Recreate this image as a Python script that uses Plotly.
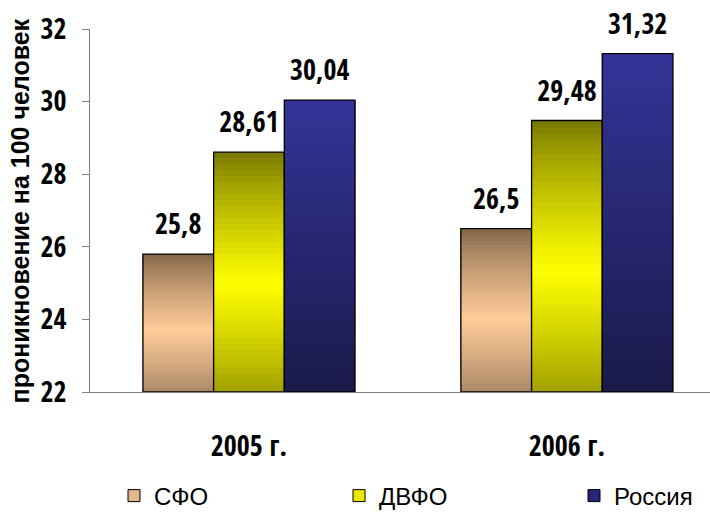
import plotly.graph_objects as go

categories = ["2005 г.", "2006 г."]
series_names = ["СФО", "ДВФО", "Россия"]
sfo = [25.8, 26.5]
dvfo = [28.61, 29.48]
russia = [30.04, 31.32]
value_labels = [["25,8", "26,5"], ["28,61", "29,48"], ["30,04", "31,32"]]
y_ticks = [22, 24, 26, 28, 30, 32]

BASE = 22
N = 40
series_values = [sfo, dvfo, russia]


def hex2rgb(h):
    h = h.lstrip("#")
    return [int(h[i:i + 2], 16) for i in (0, 2, 4)]


def mix(a, b, f):
    a, b = hex2rgb(a), hex2rgb(b)
    return "rgb(%d,%d,%d)" % tuple(round(a[i] + (b[i] - a[i]) * f) for i in range(3))


def tan_color(t):
    dark = "#7f6347" if t > 0.45 else "#8c7054"
    f = max(0.0, 1 - abs(t - 0.45) / 0.55) ** 0.8
    return mix(dark, "#ffcc99", f)


def yellow_color(t):
    dark = "#747400" if t > 0.45 else "#7f7f00"
    f = max(0.0, 1 - abs(t - 0.45) / 0.55) ** 0.8
    return mix(dark, "#ffff00", f)


def blue_color(t):
    return mix("#1a1a4a", "#343499", t)


color_funcs = [tan_color, yellow_color, blue_color]
legend_colors = ["#e0b88e", "#e8e800", "#25257a"]
legend_names = ["legend", "legend2", "legend3"]
legend_x = [114, 339, 574]

NARROW = "Noto Sans Condensed, Open Sans Condensed, Roboto Condensed, DejaVu Sans Condensed"
bold_narrow = dict(family=NARROW, size=28, color="black", weight="bold")

fig = go.Figure()

for s, vals in enumerate(series_values):
    heights = [v - BASE for v in vals]
    for k in range(N):
        t = (k + 0.5) / N
        fig.add_trace(go.Bar(
            x=categories,
            y=[h * (1 - k / N) for h in heights],
            base=[BASE + h * k / N for h in heights],
            offsetgroup=str(s),
            marker=dict(color=color_funcs[s](t), line=dict(width=0)),
            showlegend=False, hoverinfo="skip",
        ))
    # outline
    fig.add_trace(go.Bar(
        x=categories, y=heights, base=[BASE] * len(vals),
        offsetgroup=str(s),
        marker=dict(color="rgba(0,0,0,0)", line=dict(color="black", width=1.3)),
        showlegend=False, hoverinfo="skip",
    ))
    # value labels
    fig.add_trace(go.Scatter(
        x=categories, y=vals, mode="markers+text", text=value_labels[s],
        textposition="top center", textfont=bold_narrow,
        offsetgroup=str(s), cliponaxis=False, showlegend=False, hoverinfo="skip",
        marker=dict(size=19, opacity=0),
    ))
    # legend entry
    fig.add_trace(go.Bar(
        x=categories, y=[None, None], offsetgroup=str(s), name=series_names[s],
        marker=dict(color=legend_colors[s], line=dict(color="black", width=1)),
        showlegend=True, legend=legend_names[s],
    ))

legend_font = dict(family="Liberation Sans, Arial", size=24, color="black")
legend_layout = {}
for i, ln in enumerate(legend_names):
    legend_layout[ln] = dict(x=legend_x[i] / 710, xref="container", xanchor="left",
                             y=(523 - 496) / 523, yref="container", yanchor="middle",
                             font=legend_font, bgcolor="rgba(0,0,0,0)")

fig.update_layout(
    width=710, height=523,
    margin=dict(l=90, r=0, t=29, b=131, autoexpand=False),
    paper_bgcolor="white", plot_bgcolor="white",
    barmode="group", bargap=0.333, bargroupgap=0,
    scattermode="group", scattergap=0.333,
    showlegend=True,
    xaxis=dict(range=[-0.5, 1.45], showline=True, linecolor="#808080", linewidth=1,
               ticks="", ticklabelstandoff=29, showgrid=False, tickfont=bold_narrow),
    yaxis=dict(range=[22, 32], tickvals=y_ticks, showline=True, linecolor="#808080", linewidth=1,
               ticks="outside", ticklen=7, tickcolor="#808080", showgrid=False, zeroline=False,
               ticklabelstandoff=10, tickfont=bold_narrow),
    annotations=[dict(text="<b>проникновение на 100 человек</b>", xref="paper", yref="paper",
                      x=-0.113, y=0.5, xanchor="center", yanchor="middle", textangle=-90,
                      showarrow=False,
                      font=dict(family="Liberation Sans, Arial", size=25, color="black"))],
    **legend_layout,
)

fig.write_html("out.html")
